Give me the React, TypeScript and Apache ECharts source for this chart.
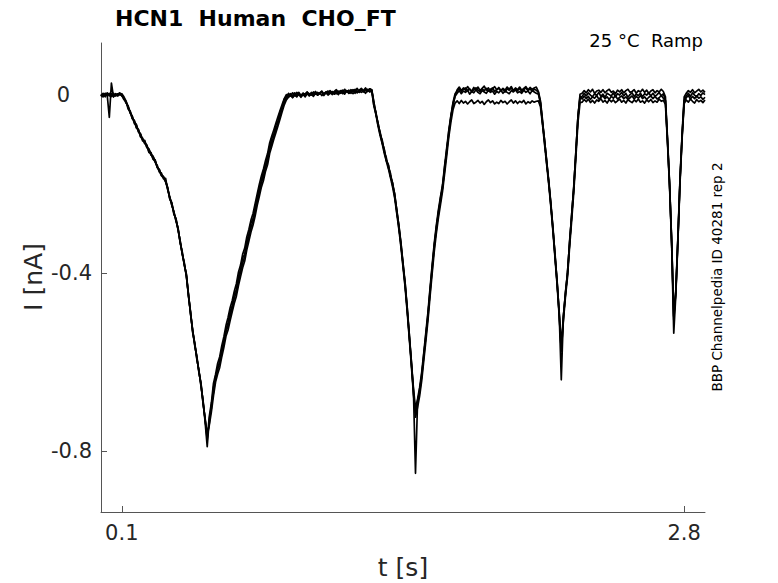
import React, { useEffect, useRef } from 'react';
import * as echarts from 'echarts';

// Sampling step of the recorded sweeps (seconds)
const TIME_STEP_S = 0.01;

// Four recorded sweeps, current in nA, one value per 10 ms (t = 0 … 2.90 s)
const SWEEP_1 = [
  // baseline
  0.002, -0.003, 0.004, -0.001, -0.050, 0.027, -0.004, 0.003, -0.001, 0.005, -0.002,
  // ramp 1
  -0.006, -0.018, -0.024, -0.041, -0.047, -0.064, -0.068, -0.083, -0.088, -0.103,
  -0.102, -0.118, -0.122, -0.135, -0.137, -0.151, -0.158, -0.173, -0.175, -0.188,
  -0.187, -0.212, -0.228, -0.248, -0.262, -0.283, -0.298, -0.332, -0.352, -0.383,
  -0.402, -0.452, -0.487, -0.533, -0.558, -0.593, -0.618, -0.654, -0.688, -0.735,
  -0.790, -0.728, -0.704, -0.657, -0.638, -0.612, -0.604, -0.572, -0.558, -0.527,
  -0.513, -0.487, -0.474, -0.446, -0.438, -0.407, -0.393, -0.366, -0.358, -0.327,
  -0.313, -0.287, -0.278, -0.252, -0.233, -0.207, -0.193, -0.172, -0.158, -0.137,
  -0.118, -0.097, -0.088, -0.067, -0.058, -0.037, -0.028, -0.009, -0.005, 0.004,
  // plateau 2
  -0.002, 0.005, -0.001, 0.006, 0.001, -0.003, 0.004, 0.002, 0.007, -0.001,
  0.006, 0.003, 0.008, 0.000, 0.005, 0.009, 0.002, 0.007, 0.004, 0.010,
  0.003, 0.008, 0.012, 0.005, 0.010, 0.006, 0.013, 0.007, 0.011, 0.004,
  0.012, 0.009, 0.015, 0.008, 0.013, 0.010, 0.016, 0.009, 0.014, 0.012,
  // ramp 2
  -0.017, -0.043, -0.062, -0.088, -0.101, -0.128, -0.141, -0.163, -0.176, -0.203,
  -0.221, -0.263, -0.291, -0.338, -0.377, -0.428, -0.476, -0.543, -0.597, -0.668,
  -0.713, -0.693, -0.661, -0.633, -0.581, -0.543, -0.491, -0.444, -0.386, -0.343,
  -0.297, -0.268, -0.231, -0.209, -0.161, -0.128, -0.081, -0.052, -0.019, -0.002,
  // plateau 3
  0.012, 0.018, 0.010, 0.016, 0.011, 0.019, 0.013, 0.009, 0.017, 0.012,
  0.018, 0.010, 0.015, 0.020, 0.011, 0.016, 0.009, 0.014, 0.019, 0.012,
  0.017, 0.010, 0.015, 0.011, 0.018, 0.013, 0.019, 0.010, 0.016, 0.012,
  0.018, 0.011, 0.015, 0.019, 0.012, 0.017, 0.013, 0.016, 0.018,
  // ramp 3
  0.008, -0.013, -0.057, -0.108, -0.147, -0.198, -0.242, -0.303, -0.357, -0.423,
  -0.487, -0.562, -0.497, -0.448, -0.397, -0.333, -0.267, -0.209, -0.127, -0.052, 0.002,
  // plateau 4
  0.004, 0.010, 0.005, 0.012, 0.007, 0.013, 0.004, 0.009, 0.011, 0.006,
  0.012, 0.005, 0.010, 0.013, 0.006, 0.009, 0.003, 0.011, 0.007, 0.012,
  0.005, 0.010, 0.013, 0.006, 0.008, 0.012, 0.004, 0.010, 0.007, 0.013,
  0.006, 0.011, 0.004, 0.009, 0.012, 0.005, 0.010, 0.007, 0.013, 0.008,
  // ramp 4
  -0.004, -0.097, -0.198, -0.328, -0.497, -0.437, -0.318, -0.187, -0.087, -0.004,
  // plateau 5
  0.004, 0.010, 0.006, 0.012, 0.005, 0.009, 0.013, 0.007, 0.011, 0.006,
];

const SWEEP_2 = [
  -0.003, 0.004, 0.000, 0.005, -0.002, 0.003, -0.004, 0.002, -0.002, 0.001, 0.003,
  -0.004, -0.013, -0.028, -0.036, -0.052, -0.058, -0.073, -0.077, -0.093, -0.097,
  -0.108, -0.112, -0.127, -0.129, -0.143, -0.146, -0.163, -0.167, -0.180, -0.183,
  -0.194, -0.207, -0.233, -0.242, -0.268, -0.277, -0.303, -0.327, -0.358, -0.377,
  -0.408, -0.447, -0.493, -0.527, -0.562, -0.587, -0.623, -0.647, -0.693, -0.727,
  -0.770, -0.738, -0.695, -0.668, -0.632, -0.618, -0.596, -0.578, -0.552, -0.533,
  -0.518, -0.496, -0.478, -0.457, -0.442, -0.418, -0.397, -0.378, -0.362, -0.337,
  -0.318, -0.298, -0.283, -0.262, -0.238, -0.218, -0.197, -0.183, -0.162, -0.148,
  -0.122, -0.108, -0.091, -0.077, -0.062, -0.046, -0.031, -0.017, -0.006, -0.003,
  0.002, -0.005, 0.001, -0.003, 0.004, -0.002, 0.003, -0.004, 0.005, 0.000,
  0.004, -0.001, 0.006, 0.001, 0.003, 0.007, -0.001, 0.005, 0.002, 0.008,
  0.001, 0.006, 0.003, 0.009, 0.004, 0.007, 0.002, 0.010, 0.005, 0.008,
  0.011, 0.004, 0.009, 0.006, 0.012, 0.007, 0.010, 0.013, 0.008, 0.011,
  -0.023, -0.038, -0.068, -0.083, -0.108, -0.122, -0.148, -0.157, -0.183, -0.197,
  -0.228, -0.257, -0.298, -0.332, -0.383, -0.422, -0.483, -0.537, -0.603, -0.662,
  -0.850, -0.688, -0.668, -0.627, -0.588, -0.537, -0.498, -0.437, -0.393, -0.337,
  -0.303, -0.262, -0.238, -0.204, -0.168, -0.122, -0.088, -0.047, -0.025, -0.003,
  0.004, 0.010, 0.003, 0.009, 0.006, 0.011, 0.002, 0.008, 0.005, 0.012,
  0.006, 0.003, 0.010, 0.007, 0.004, 0.011, 0.006, 0.009, 0.002, 0.008,
  0.005, 0.011, 0.004, 0.009, 0.006, 0.003, 0.010, 0.007, 0.012, 0.005,
  0.008, 0.004, 0.011, 0.006, 0.009, 0.003, 0.010, 0.007, 0.004,
  0.002, -0.018, -0.063, -0.102, -0.153, -0.192, -0.248, -0.297, -0.363, -0.418,
  -0.493, -0.575, -0.503, -0.442, -0.403, -0.327, -0.273, -0.204, -0.133, -0.048, -0.007,
  -0.003, 0.004, -0.002, 0.005, 0.000, -0.004, 0.003, -0.001, 0.006, -0.003,
  0.002, -0.005, 0.004, 0.001, -0.002, 0.005, -0.004, 0.003, 0.000, 0.006,
  -0.002, 0.004, -0.005, 0.001, 0.005, -0.003, 0.002, -0.001, 0.004, -0.004,
  0.003, 0.000, 0.005, -0.002, 0.004, -0.003, 0.001, 0.006, -0.002, 0.003,
  -0.012, -0.103, -0.203, -0.333, -0.505, -0.443, -0.323, -0.193, -0.093, -0.013,
  -0.002, 0.004, -0.003, 0.005, 0.000, -0.004, 0.003, -0.001, 0.005, 0.001,
];

const SWEEP_3 = [
  0.001, -0.004, 0.003, 0.000, 0.004, -0.003, 0.002, -0.001, 0.003, 0.004, 0.000,
  -0.008, -0.016, -0.025, -0.039, -0.048, -0.061, -0.066, -0.082, -0.087, -0.101,
  -0.104, -0.117, -0.121, -0.133, -0.139, -0.147, -0.161, -0.168, -0.179, -0.184,
  -0.192, -0.209, -0.232, -0.243, -0.266, -0.279, -0.301, -0.331, -0.354, -0.381,
  -0.404, -0.449, -0.491, -0.529, -0.562, -0.588, -0.622, -0.649, -0.692, -0.728,
  -0.775, -0.722, -0.692, -0.648, -0.628, -0.603, -0.588, -0.563, -0.543, -0.518,
  -0.500, -0.478, -0.462, -0.441, -0.424, -0.398, -0.382, -0.358, -0.344, -0.319,
  -0.302, -0.281, -0.266, -0.244, -0.222, -0.201, -0.182, -0.166, -0.147, -0.131,
  -0.107, -0.092, -0.078, -0.063, -0.048, -0.034, -0.021, -0.008, 0.001, -0.002,
  0.003, -0.002, 0.005, 0.000, 0.006, -0.001, 0.004, 0.001, 0.006, 0.003,
  0.000, 0.007, 0.002, 0.006, 0.003, 0.008, 0.001, 0.006, 0.009, 0.004,
  0.008, 0.005, 0.010, 0.003, 0.009, 0.011, 0.006, 0.010, 0.004, 0.012,
  0.008, 0.013, 0.007, 0.011, 0.015, 0.009, 0.012, 0.008, 0.014, 0.011,
  -0.015, -0.042, -0.063, -0.086, -0.104, -0.123, -0.146, -0.158, -0.182, -0.198,
  -0.223, -0.258, -0.293, -0.331, -0.378, -0.421, -0.477, -0.536, -0.598, -0.658,
  -0.705, -0.683, -0.657, -0.622, -0.578, -0.532, -0.487, -0.433, -0.382, -0.333,
  -0.293, -0.258, -0.228, -0.201, -0.158, -0.118, -0.079, -0.046, -0.017, 0.003,
  0.009, 0.015, 0.008, 0.013, 0.016, 0.010, 0.014, 0.007, 0.012, 0.016,
  0.011, 0.008, 0.014, 0.010, 0.015, 0.009, 0.013, 0.016, 0.008, 0.012,
  0.015, 0.010, 0.013, 0.007, 0.014, 0.011, 0.016, 0.009, 0.013, 0.010,
  0.015, 0.008, 0.012, 0.016, 0.010, 0.014, 0.009, 0.013, 0.011,
  0.006, -0.017, -0.062, -0.103, -0.152, -0.197, -0.247, -0.302, -0.362, -0.421,
  -0.492, -0.640, -0.497, -0.447, -0.398, -0.332, -0.268, -0.208, -0.128, -0.048, -0.003,
  -0.009, -0.002, -0.008, -0.003, -0.010, -0.004, -0.007, -0.001, -0.009, -0.005,
  -0.002, -0.008, -0.004, -0.010, -0.003, -0.007, -0.001, -0.009, -0.005, -0.002,
  -0.008, -0.004, -0.010, -0.006, -0.002, -0.009, -0.003, -0.007, -0.001, -0.008,
  -0.004, -0.010, -0.005, -0.002, -0.008, -0.003, -0.009, -0.006, -0.001, -0.007,
  -0.013, -0.102, -0.202, -0.332, -0.498, -0.442, -0.322, -0.192, -0.092, -0.014,
  -0.006, -0.001, -0.009, -0.003, -0.008, -0.002, -0.007, -0.004, -0.010, -0.005,
];

const SWEEP_4 = [
  -0.002, 0.002, -0.004, 0.003, 0.001, -0.003, 0.004, -0.002, 0.001, 0.002, -0.001,
  -0.010, -0.014, -0.031, -0.037, -0.053, -0.057, -0.074, -0.079, -0.094, -0.099,
  -0.109, -0.113, -0.129, -0.131, -0.144, -0.149, -0.162, -0.171, -0.181, -0.186,
  -0.195, -0.211, -0.231, -0.247, -0.263, -0.282, -0.302, -0.328, -0.357, -0.379,
  -0.407, -0.451, -0.489, -0.531, -0.557, -0.592, -0.619, -0.652, -0.687, -0.731,
  -0.760, -0.742, -0.712, -0.676, -0.645, -0.627, -0.612, -0.588, -0.567, -0.542,
  -0.528, -0.507, -0.487, -0.468, -0.452, -0.428, -0.408, -0.388, -0.373, -0.348,
  -0.328, -0.308, -0.292, -0.272, -0.248, -0.228, -0.207, -0.192, -0.171, -0.156,
  -0.131, -0.115, -0.099, -0.084, -0.069, -0.053, -0.037, -0.022, -0.011, -0.005,
  -0.001, -0.006, 0.000, -0.004, 0.002, -0.005, 0.001, -0.003, 0.003, -0.002,
  0.002, -0.003, 0.004, 0.000, 0.005, -0.001, 0.003, 0.006, 0.000, 0.004,
  0.007, 0.002, 0.005, 0.001, 0.008, 0.003, 0.006, 0.009, 0.004, 0.007,
  0.003, 0.008, 0.005, 0.010, 0.006, 0.009, 0.004, 0.011, 0.007, 0.009,
  -0.024, -0.044, -0.069, -0.091, -0.109, -0.131, -0.149, -0.166, -0.186, -0.207,
  -0.231, -0.266, -0.301, -0.341, -0.386, -0.431, -0.486, -0.546, -0.607, -0.671,
  -0.724, -0.702, -0.676, -0.641, -0.596, -0.552, -0.506, -0.452, -0.401, -0.352,
  -0.311, -0.276, -0.246, -0.216, -0.176, -0.136, -0.094, -0.061, -0.033, -0.018,
  -0.013, -0.019, -0.012, -0.018, -0.014, -0.020, -0.015, -0.011, -0.019, -0.016,
  -0.012, -0.018, -0.014, -0.021, -0.015, -0.011, -0.017, -0.013, -0.020, -0.016,
  -0.019, -0.012, -0.017, -0.014, -0.020, -0.015, -0.011, -0.018, -0.013, -0.019,
  -0.014, -0.017, -0.012, -0.020, -0.015, -0.018, -0.013, -0.016, -0.014,
  -0.013, -0.026, -0.067, -0.112, -0.157, -0.202, -0.252, -0.307, -0.367, -0.427,
  -0.497, -0.575, -0.508, -0.453, -0.408, -0.341, -0.281, -0.218, -0.141, -0.062, -0.017,
  -0.016, -0.010, -0.015, -0.009, -0.017, -0.012, -0.018, -0.011, -0.014, -0.008,
  -0.016, -0.012, -0.018, -0.010, -0.015, -0.011, -0.017, -0.013, -0.009, -0.016,
  -0.012, -0.018, -0.010, -0.014, -0.017, -0.011, -0.015, -0.009, -0.016, -0.013,
  -0.018, -0.011, -0.015, -0.010, -0.017, -0.013, -0.016, -0.009, -0.014, -0.012,
  -0.021, -0.108, -0.208, -0.338, -0.535, -0.448, -0.328, -0.198, -0.098, -0.019,
  -0.011, -0.016, -0.009, -0.014, -0.018, -0.010, -0.015, -0.012, -0.017, -0.011,
];

const SWEEPS = [SWEEP_1, SWEEP_2, SWEEP_3, SWEEP_4];

// Tick positions and axis limits
const X_TICKS = [0.1, 2.8];
const Y_TICKS = [-0.8, -0.4, 0];
const X_RANGE = [0, 2.9];
const Y_RANGE = [-0.937, 0.117];

const TITLE = 'HCN1  Human  CHO_FT';
const SUBTITLE = '25 °C  Ramp';
const SIDE_NOTE = 'BBP Channelpedia ID 40281 rep 2';
const X_NAME = 't [s]';
const Y_NAME = 'I [nA]';

const FONT = '"DejaVu Sans", "Liberation Sans", sans-serif';

export default function App() {
  const ref = useRef<HTMLDivElement>(null);

  useEffect(() => {
    if (!ref.current) return;
    const chart = echarts.init(ref.current, undefined, { renderer: 'svg' });

    const series = SWEEPS.map((sw, k) => ({
      type: 'line',
      name: 'sweep ' + (k + 1),
      showSymbol: false,
      symbol: 'none',
      data: sw.map((v, i) => [+(i * TIME_STEP_S).toFixed(2), v]),
      lineStyle: { color: '#000000', width: 1.7, join: 'round' },
      itemStyle: { color: '#000000' },
      emphasis: { disabled: true },
      silent: true,
      z: 2,
    }));

    chart.setOption({
      animation: false,
      backgroundColor: '#ffffff',
      grid: { left: 101, right: 73, top: 43, bottom: 71, containLabel: false },
      xAxis: {
        type: 'value',
        min: X_RANGE[0],
        max: X_RANGE[1],
        splitLine: { show: false },
        axisLine: { show: true, onZero: false, lineStyle: { color: '#555555', width: 1 } },
        axisTick: { show: true, inside: true, length: 6, customValues: X_TICKS, lineStyle: { color: '#555555' } },
        axisLabel: {
          customValues: X_TICKS,
          fontSize: 21,
          color: '#262626',
          fontFamily: FONT,
          margin: 10,
          formatter: (v: number) => String(v),
        },
      },
      yAxis: {
        type: 'value',
        min: Y_RANGE[0],
        max: Y_RANGE[1],
        splitLine: { show: false },
        axisLine: { show: true, onZero: false, lineStyle: { color: '#555555', width: 1 } },
        axisTick: { show: true, inside: true, length: 6, customValues: Y_TICKS, lineStyle: { color: '#555555' } },
        axisLabel: {
          customValues: Y_TICKS,
          fontSize: 21,
          color: '#262626',
          fontFamily: FONT,
          margin: 9,
          formatter: (v: number) => (v === 0 ? '{z|0}' : String(v)),
          rich: {
            z: { fontSize: 21, color: '#262626', fontFamily: FONT, padding: [0, 22, 0, 0] },
          },
        },
      },
      graphic: [
        {
          type: 'text',
          x: 115,
          y: 18,
          style: {
            text: TITLE,
            fontSize: 22,
            fontWeight: 'bold',
            fontFamily: FONT,
            fill: '#000000',
            textAlign: 'left',
            textVerticalAlign: 'middle',
          },
        },
        {
          type: 'text',
          x: 703,
          y: 40,
          style: {
            text: SUBTITLE,
            fontSize: 18,
            fontFamily: FONT,
            fill: '#000000',
            textAlign: 'right',
            textVerticalAlign: 'middle',
          },
        },
        {
          type: 'text',
          x: 717,
          y: 277,
          rotation: Math.PI / 2,
          style: {
            text: SIDE_NOTE,
            fontSize: 13.5,
            fontFamily: FONT,
            fill: '#000000',
            textAlign: 'center',
            textVerticalAlign: 'middle',
          },
        },
        {
          type: 'text',
          x: 403,
          y: 567,
          style: {
            text: X_NAME,
            fontSize: 25,
            fontFamily: FONT,
            fill: '#262626',
            textAlign: 'center',
            textVerticalAlign: 'middle',
          },
        },
        {
          type: 'text',
          x: 33,
          y: 277,
          rotation: Math.PI / 2,
          style: {
            text: Y_NAME,
            fontSize: 25,
            fontFamily: FONT,
            fill: '#262626',
            textAlign: 'center',
            textVerticalAlign: 'middle',
          },
        },
      ],
      series,
    });

    return () => chart.dispose();
  }, []);

  return (
    <div
      ref={ref}
      style={{ position: 'fixed', left: 0, top: 0, width: '778px', height: '583px', background: '#fff' }}
    />
  );
}
